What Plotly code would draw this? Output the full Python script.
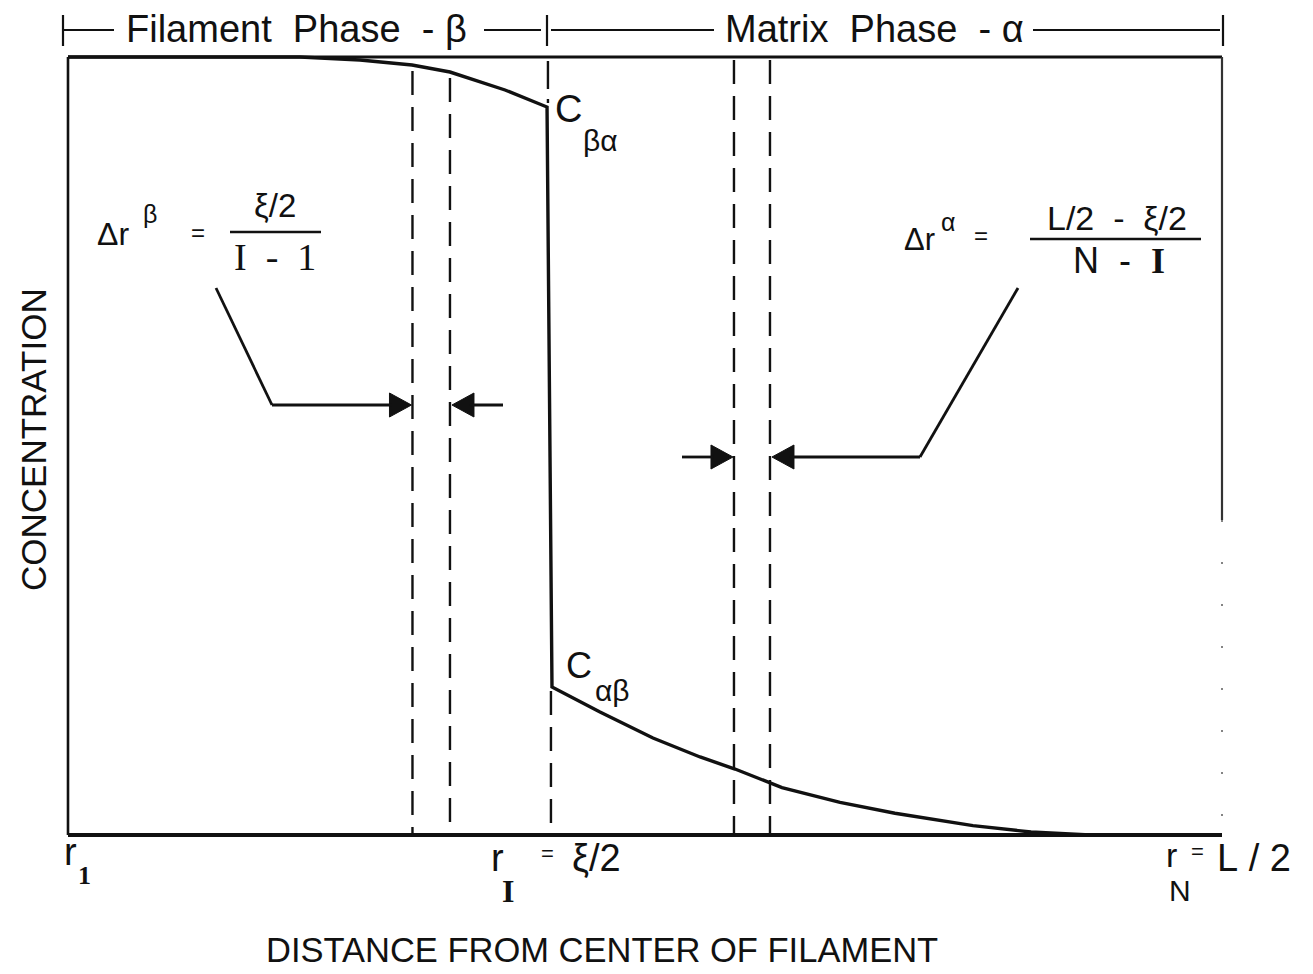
import numpy as np
import plotly.graph_objects as go

# ---------------------------------------------------------------------------
# Concentration profile across filament (beta) and matrix (alpha) phases.
# r is the radial distance normalised by L/2, C the normalised concentration.
# ---------------------------------------------------------------------------
r_beta = [0.0, 0.2010, 0.2530, 0.2981, 0.3310, 0.3787, 0.4151]
c_beta = [1.0, 1.0, 0.9961, 0.9897, 0.9807, 0.9576, 0.9357]

r_alpha = [0.4194, 0.4610, 0.5069, 0.5477, 0.5780, 0.6187, 0.6690,
           0.7166, 0.7842, 0.8345, 0.8856, 1.0]
c_alpha = [0.1902, 0.1581, 0.1247, 0.1003, 0.0848, 0.0610, 0.0420,
           0.0280, 0.0120, 0.0039, 0.0, 0.0]

# finite-difference grid nodes drawn as dashed lines
beta_nodes = [0.2985, 0.3310]        # two nodes inside the filament
interface_node = 0.4159              # r_I = xi/2
alpha_nodes = [0.5771, 0.6083]       # two nodes inside the matrix

# ---------------------------------------------------------------------------
# page geometry: axis units <-> page pixels
# ---------------------------------------------------------------------------
W, H = 1313, 974
PX0, PX1 = 68, 1222      # pixel columns of r = 0 and r = 1
PY0, PY1 = 835, 57       # pixel rows of C = 0 and C = 1


def ux(px):
    return (px - PX0) / (PX1 - PX0)


def uy(py):
    return (PY0 - py) / (PY0 - PY1)


def dx(n):
    return n / (PX1 - PX0)


def dy(n):
    return n / (PY0 - PY1)


SANS = "Liberation Sans Narrow, Liberation Sans, Arial, sans-serif"
SERIF = "Liberation Serif, DejaVu Serif, serif"
INK = "#111111"

fig = go.Figure()

# concentration profile with the jump at the interface
fig.add_trace(go.Scatter(
    x=r_beta + r_alpha, y=c_beta + c_alpha, mode="lines",
    line=dict(color=INK, width=3.4), hoverinfo="skip", showlegend=False))

shapes = []


def seg(x0, y0, x1, y1, width=3.0, dash=None, color=INK):
    ln = dict(color=color, width=width)
    if dash:
        ln["dash"] = dash
    shapes.append(dict(type="line", xref="x", yref="y", x0=x0, y0=y0,
                       x1=x1, y1=y1, line=ln, layer="above"))


# frame
seg(0, 1, 1, 1, width=3.2)
seg(0, 0, 1, 0, width=3.8)
seg(0, 0, 0, 1, width=2.6)
seg(1, 1, 1, uy(520), width=2.2, color="#333333")
seg(1, uy(520), 1, 0, width=1.6, dash="2px,40px", color="#666666")

# grid node lines
DASH = "24px,12px"
for rn in beta_nodes:
    top = float(np.interp(rn, r_beta, c_beta))
    seg(rn, top - dy(6), rn, 0, width=2.4, dash=DASH)
seg(interface_node, 1 - dy(4), interface_node, c_beta[-1] + dy(4), width=2.4, dash="28px,10px")
seg(interface_node + dx(3), c_alpha[0] - dy(4), interface_node + dx(3), 0, width=2.4, dash=DASH)
for rn in alpha_nodes:
    seg(rn, 1 - dy(3), rn, 0, width=2.4, dash=DASH)

# phase header bar
hy = uy(30)
seg(ux(63), hy, ux(114), hy, width=2.2)
seg(ux(484), hy, ux(541), hy, width=2.2)
seg(ux(551), hy, ux(714), hy, width=2.2)
seg(ux(1033), hy, ux(1220), hy, width=2.2)
for tx in (63, 547, 1223):
    seg(ux(tx), uy(15), ux(tx), uy(46), width=2.2)

# fraction bars
seg(ux(230), uy(232), ux(321), uy(232), width=2.4)
seg(ux(1030), uy(239), ux(1201), uy(239), width=2.4)

# leader lines to the grid spacing arrows
ya_b = uy(405)
ya_a = uy(457)
seg(ux(216), uy(288), ux(272), ya_b, width=2.8)
seg(ux(272), ya_b, beta_nodes[0] - dx(20), ya_b, width=2.8)
seg(beta_nodes[1] + dx(20), ya_b, ux(503), ya_b, width=2.8)

seg(ux(1018), uy(288), ux(920), ya_a, width=2.8)
seg(ux(920), ya_a, alpha_nodes[1] + dx(20), ya_a, width=2.8)
seg(ux(682), ya_a, alpha_nodes[0] - dx(20), ya_a, width=2.8)


def arrowhead(tip_x, y, direction):
    # filled triangle whose tip touches a grid line
    L, h = dx(22), dy(12)
    bx = tip_x - direction * L
    fig.add_trace(go.Scatter(
        x=[tip_x, bx, bx, tip_x], y=[y, y + h, y - h, y],
        mode="lines", fill="toself", fillcolor=INK,
        line=dict(color=INK, width=1), hoverinfo="skip", showlegend=False))


arrowhead(beta_nodes[0] - dx(1), ya_b, +1)
arrowhead(beta_nodes[1] + dx(2), ya_b, -1)
arrowhead(alpha_nodes[0] - dx(1), ya_a, +1)
arrowhead(alpha_nodes[1] + dx(2), ya_a, -1)

annotations = []


def label(text, px, py, size, family=SANS, angle=0, xanchor="center"):
    annotations.append(dict(
        x=ux(px), y=uy(py), xref="x", yref="y", text=text, showarrow=False,
        xanchor=xanchor, yanchor="middle", textangle=angle,
        font=dict(family=family, size=size, color=INK)))


NB = "\u00a0"
label(f"Filament{NB*2}Phase{NB*2}-{NB}β", 296, 29, 38)
label(f"Matrix{NB*2}Phase{NB*2}-{NB}α", 874, 29, 38)

label("CONCENTRATION", 33, 440, 35, angle=-90)

label("C", 568, 109, 38)
label("βα", 600, 140, 30)
label("C", 579, 665, 36)
label("αβ", 612, 690, 30)

# grid spacing in the filament
label("Δr", 113, 234, 32)
label("β", 150, 214, 25)
label("=", 198, 232, 24)
label("ξ/2", 275, 205, 33)
label(f"I{NB}{NB}-{NB}{NB}1", 275, 257, 38, family=SERIF)

# grid spacing in the matrix
label("Δr", 919, 239, 31)
label("α", 948, 222, 25)
label("=", 981, 235, 24)
label(f"L/2{NB}{NB}-{NB}{NB}ξ/2", 1117, 218, 34)
label(f"N{NB}{NB}-{NB}{NB}<span style='font-family:{SERIF}'><b>I</b></span>", 1119, 260, 36)

# radial positions on the distance axis
label("r", 70, 852, 38)
label("<b>1</b>", 84, 875, 26, family=SERIF)
label("r", 497, 858, 38)
label("<b>I</b>", 508, 891, 32, family=SERIF)
label("=", 547, 853, 22)
label("ξ/2", 596, 858, 38)
label("r", 1171, 855, 34)
label("N", 1180, 890, 30)
label("=", 1197, 851, 22)
label(f"L{NB}/{NB}2", 1254, 858, 38)

label("DISTANCE FROM CENTER OF FILAMENT", 602, 950, 34.5)

fig.update_layout(
    width=W, height=H,
    margin=dict(l=0, r=0, t=0, b=0),
    paper_bgcolor="white", plot_bgcolor="white",
    xaxis=dict(range=[ux(0), ux(W)], visible=False, fixedrange=True),
    yaxis=dict(range=[uy(H), uy(0)], visible=False, fixedrange=True),
    shapes=shapes, annotations=annotations, showlegend=False,
)

fig.write_html("out.html")
